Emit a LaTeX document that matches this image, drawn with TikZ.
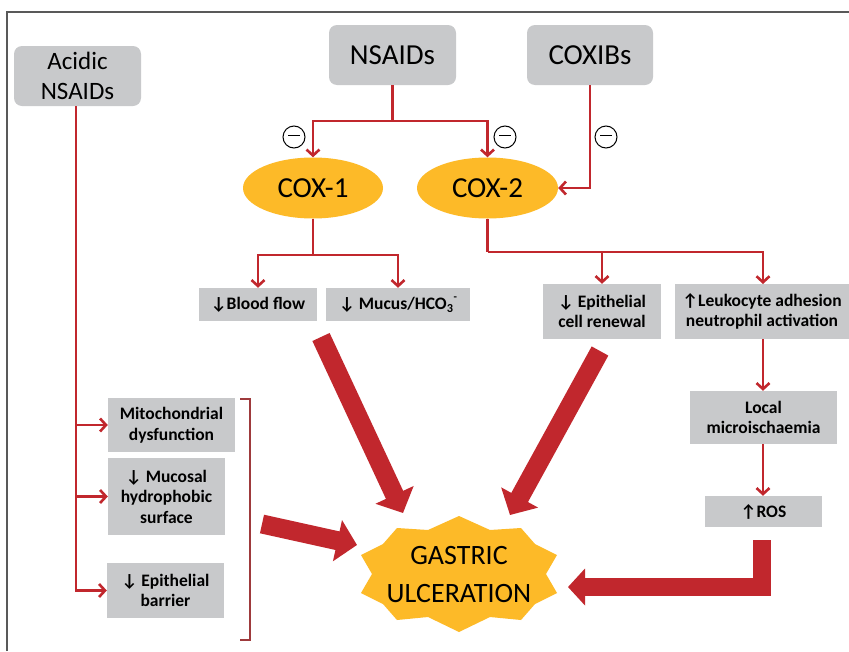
\documentclass[tikz,border=0pt]{standalone}
\usepackage{fontspec}
\setmainfont{Carlito}
\usetikzlibrary{arrows.meta,shapes.geometric}
\definecolor{cred}{RGB}{193,39,45}
\definecolor{corg}{RGB}{253,186,40}
\definecolor{cgray}{RGB}{200,201,203}
\definecolor{cbrk}{RGB}{158,58,60}
\newcommand{\dnarr}{↓}
\newcommand{\uparr}{↑}
\begin{document}
\begin{tikzpicture}[x=1pt,y=-1pt,
  topbox/.style={fill=cgray, rounded corners=8pt, minimum height=60pt, align=center, inner sep=0pt, font=\fontsize{29}{34}\selectfont},
  coxnode/.style={ellipse, fill=corg, minimum width=140pt, minimum height=61pt, inner sep=0pt, font=\fontsize{29}{34}\selectfont},
  effbox/.style={fill=cgray, align=center, inner sep=0pt, font=\bfseries\fontsize{17.5}{20.5}\selectfont},
  redarrow/.style={draw=cred, line width=2.6pt, -{Straight Barb[length=6pt,width=13pt]}},
  redline/.style={draw=cred, line width=2.6pt},
  bigarrow/.style={draw=cred, line width=19pt, -{Triangle[length=20pt,width=41pt]}},
  inhib/.style={circle, draw=black, line width=1pt, minimum size=22pt, inner sep=0pt}
]
\useasboundingbox (0,0) rectangle (849,651);
\fill[white] (0,0) rectangle (849,651);
% frame
\draw[black!65, line width=1.3pt] (7,651) -- (7,12) -- (849,12);

% top nodes
\node[topbox, minimum width=127pt, font=\fontsize{25}{30}\selectfont] (acid) at (77.5,76) {Acidic\\NSAIDs};
\node[topbox, minimum width=127pt] (nsaids) at (392.5,55) {NSAIDs};
\node[topbox, minimum width=126pt] (coxibs) at (590,55) {COXIBs};

% COX enzymes
\node[coxnode] (cox1) at (313,188) {COX-1};
\node[coxnode, minimum width=141pt] (cox2) at (487.5,188) {COX-2};

% effect boxes
\node[effbox, minimum width=118pt, minimum height=33pt] (blood) at (258,304.5) {\dnarr Blood flow};
\node[effbox, minimum width=144pt, minimum height=33pt] (mucus) at (398,304.5) {\dnarr{} Mucus/HCO\textsubscript{3}\raisebox{1.1ex}{\fontsize{11}{11}\selectfont -}};
\node[effbox, minimum width=118pt, minimum height=55pt] (epi) at (602,311.5) {\dnarr{} Epithelial\\cell renewal};
\node[effbox, minimum width=174pt, minimum height=55pt] (leuk) at (762,311.5) {\uparr Leukocyte adhesion\\neutrophil activation};
\node[effbox, minimum width=147pt, minimum height=53pt] (local) at (763.5,417.5) {Local\\microischaemia};
\node[effbox, minimum width=117pt, minimum height=31pt] (ros) at (763.5,511.5) {\uparr ROS};
\node[effbox, minimum width=127pt, minimum height=54pt] (mito) at (171.5,425) {Mitochondrial\\dysfunction};
\node[effbox, minimum width=117pt, minimum height=77pt] (mucosal) at (166.5,496.5) {\dnarr{} Mucosal\\hydrophobic\\surface};
\node[effbox, minimum width=117pt, minimum height=55pt] (barrier) at (165.5,590.5) {\dnarr{} Epithelial\\barrier};

% gastric ulceration star
\fill[corg] (459,577) ++(0,-61) -- ++(31,14) -- ++(31,-2) -- ++(14,16) -- ++(22,11) -- ++(-11,19) -- ++(11,19)
  -- ++(-22,11) -- ++(-14,16) -- ++(-31,-3) -- ++(-31,15) -- ++(-31,-15) -- ++(-31,3) -- ++(-14,-16) -- ++(-22,-11)
  -- ++(11,-19) -- ++(-11,-19) -- ++(22,-11) -- ++(14,-16) -- ++(31,2) -- cycle;
\node[font=\fontsize{28}{38}\selectfont, align=center, inner sep=0pt] (gastric) at (459,575) {GASTRIC\\ULCERATION};

% NSAIDs -> COX
\coordinate (nj) at (nsaids.south |- 0,121);
\draw[redline] (nsaids.south) -- (nj);
\draw[redarrow] (nj) -| (cox1.north);
\draw[redarrow] (nj) -| (cox2.north);
\draw[redarrow] (coxibs.south) |- (cox2.east);
\node[inhib] (m1) at (294,137) {\rule[0.5ex]{12pt}{1.2pt}};
\node[inhib] (m2) at (505,137) {\rule[0.5ex]{12pt}{1.2pt}};
\node[inhib] (m3) at (606,137) {\rule[0.5ex]{12pt}{1.2pt}};

% COX-1 effects
\coordinate (c1j) at (cox1.south |- 0,255);
\draw[redline] (cox1.south) -- (c1j);
\draw[redarrow] (c1j) -| (blood.north);
\draw[redarrow] (c1j) -| (mucus.north);

% COX-2 effects
\coordinate (c2j) at (cox2.south |- 0,252);
\coordinate (lk) at (763,284);
\draw[redline] (cox2.south) -- (c2j);
\draw[redarrow] (c2j) -| (epi.north);
\draw[redarrow] (c2j) -| (lk);
\draw[redarrow] (lk |- leuk.south) -- (lk |- local.north);
\draw[redarrow] (lk |- local.south) -- (lk |- ros.north);

% Acidic NSAIDs
\coordinate (aj) at (76,0);
\draw[redarrow] (aj |- acid.south) |- (barrier.west);
\draw[redarrow] (aj |- mito.west) -- (mito.west);
\draw[redarrow] (aj |- mucosal.west) -- (mucosal.west);

% bracket
\draw[cbrk, line width=2pt] (240,399) -- (250,399) -- (250,640) -- (240,640);

% big arrows
\coordinate (t1) at (321,337);
\coordinate (h1) at (403,513);
\coordinate (t2) at (600,351);
\coordinate (h2) at (510,515);
\coordinate (t3) at (262,524);
\coordinate (h3) at (357,545);
\draw[bigarrow] (t1) -- (h1);
\draw[bigarrow] (t2) -- (h2);
\draw[bigarrow] (t3) -- (h3);
\coordinate (t4) at (762,540);
\coordinate (h4) at (568,587);
\draw[bigarrow, line width=18pt, -{Triangle[length=17pt,width=36pt]}, line join=miter] (t4) |- (h4);
\end{tikzpicture}
\end{document}
